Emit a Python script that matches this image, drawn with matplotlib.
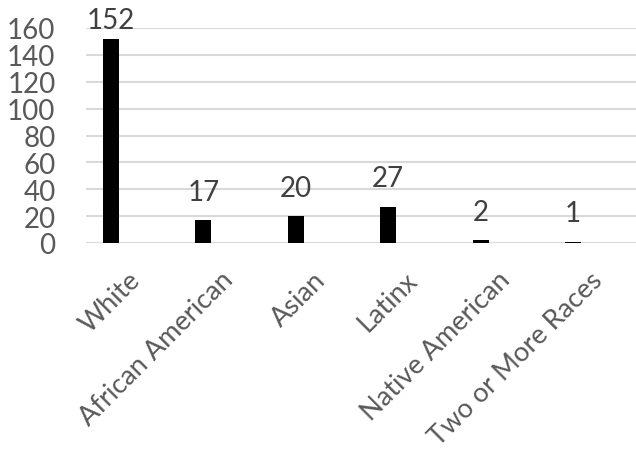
import matplotlib
matplotlib.use("Agg")
import matplotlib.pyplot as plt
from matplotlib.transforms import ScaledTranslation

categories = ["White", "African American", "Asian", "Latinx", "Native American", "Two or More Races"]
values = [152, 17, 20, 27, 2, 1]
yticks = [0, 20, 40, 60, 80, 100, 120, 140, 160]

plt.rcParams['font.family'] = ['Lato', 'DejaVu Sans']
gray = '#595959'

fig = plt.figure(figsize=(6.36, 4.6), dpi=100)
ax = fig.add_axes([86/636, (460-244)/460, 550/636, (244-29)/460])

x = list(range(len(categories)))
ax.bar(x, values, width=0.175, color='black', zorder=3)

ax.set_ylim(0, 160)
ax.set_xlim(-0.27, 5.68)
ax.set_yticks(yticks)
ax.set_yticklabels([str(t) for t in yticks], fontsize=20, color=gray)
ax.yaxis.grid(True, color='#d9d9d9', linewidth=1.5, zorder=0)
ax.tick_params(axis='y', length=0, pad=22)
ax.set_xticks([])
for s in ax.spines.values():
    s.set_visible(False)

# category labels, rotated 45 degrees
trans = ax.get_xaxis_transform() + ScaledTranslation(12/72, -17/72, fig.dpi_scale_trans)
for xi, lab in zip(x, categories):
    ax.text(xi, 0, lab, transform=trans, rotation=45, rotation_mode='anchor',
            ha='right', va='top', fontsize=19.5, color=gray, clip_on=False)

vmax = max(values)
for xi, v in zip(x, values):
    off = 4 if v == vmax else 11
    ax.annotate(str(v), (xi, v), xytext=(0, off), textcoords='offset points',
                ha='center', va='bottom', fontsize=20, color='#404040', annotation_clip=False)

fig.savefig("out.png", dpi=100)
